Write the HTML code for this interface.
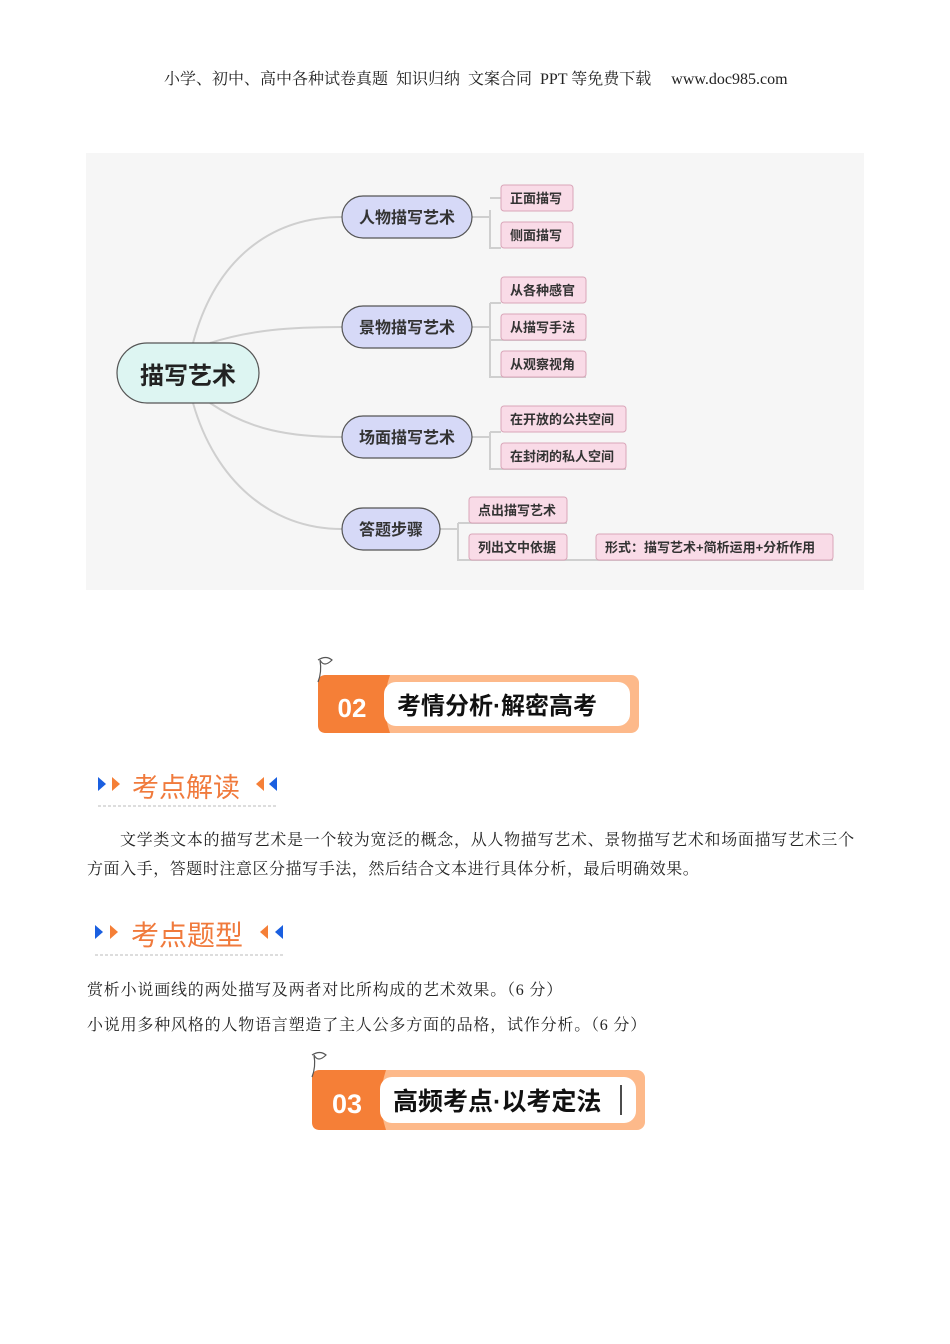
<!DOCTYPE html>
<html><head><meta charset="utf-8"><style>
body{margin:0;background:#fff;}
.pg{position:relative;width:950px;height:1344px;font-family:"Liberation Serif","Noto Serif CJK SC",serif;color:#222;}
.t{position:absolute;white-space:nowrap;}
svg text{font-family:"Liberation Sans","Noto Sans CJK SC",sans-serif;font-weight:bold;}
</style></head><body><div class="pg">
<div class="t" style="left:164px;top:66px;font-size:16px;">小学、初中、高中各种试卷真题&nbsp; 知识归纳&nbsp; 文案合同&nbsp; PPT 等免费下载 &nbsp;&nbsp;&nbsp; www.doc985.com</div>
<svg width="950" height="1344" style="position:absolute;left:0;top:0">
<rect x="86" y="153" width="778" height="437" fill="#f6f6f6"/>
<g fill="none" stroke="#cfcfcf" stroke-width="2">
<path d="M193 343 C215 260 270 217 342 217"/>
<path d="M210 343 C250 330 290 327 342 327"/>
<path d="M210 403 C250 430 290 437 342 437"/>
<path d="M193 403 C215 480 270 529 342 529"/>
<path d="M472 217 H490 M490 210 V248 H501 M490 198 H501"/>
<path d="M472 327 H490 M490 303 V377 H501 M490 303 H501 M490 340 H586 M490 377 H586"/>
<path d="M472 437 H490 M490 432 V469 H626 M490 432 H501"/>
<path d="M440 529 H458 M458 523 V560 H833 M458 523 H567"/>
</g>
<rect x="117" y="343" width="142" height="60" rx="30" fill="#ddf5f2" stroke="#555" stroke-width="1.2"/>
<text x="188" y="384" font-size="24" text-anchor="middle" fill="#222">描写艺术</text>
<g fill="#d6d9f7" stroke="#555" stroke-width="1.2">
<rect x="342" y="196" width="130" height="42" rx="21"/>
<rect x="342" y="306" width="130" height="42" rx="21"/>
<rect x="342" y="416" width="130" height="42" rx="21"/>
<rect x="342" y="508" width="98" height="42" rx="21"/>
</g>
<g font-size="16" fill="#333" text-anchor="middle">
<text x="407" y="223">人物描写艺术</text>
<text x="407" y="333">景物描写艺术</text>
<text x="407" y="443">场面描写艺术</text>
<text x="391" y="535">答题步骤</text>
</g>
<g fill="#f9dbe7" stroke="#d9a5b8" stroke-width="1">
<rect x="501" y="185" width="72" height="26" rx="3"/>
<rect x="501" y="222" width="72" height="26" rx="3"/>
<rect x="501" y="277" width="85" height="26" rx="3"/>
<rect x="501" y="314" width="85" height="26" rx="3"/>
<rect x="501" y="351" width="85" height="26" rx="3"/>
<rect x="501" y="406" width="125" height="26" rx="3"/>
<rect x="501" y="443" width="125" height="26" rx="3"/>
<rect x="469" y="497" width="98" height="26" rx="3"/>
<rect x="469" y="534" width="98" height="26" rx="3"/>
<rect x="596" y="534" width="237" height="26" rx="3"/>
</g>
<g font-size="13" fill="#333">
<text x="510" y="203">正面描写</text>
<text x="510" y="240">侧面描写</text>
<text x="510" y="295">从各种感官</text>
<text x="510" y="332">从描写手法</text>
<text x="510" y="369">从观察视角</text>
<text x="510" y="424">在开放的公共空间</text>
<text x="510" y="461">在封闭的私人空间</text>
<text x="478" y="515">点出描写艺术</text>
<text x="478" y="552">列出文中依据</text>
<text x="605" y="552">形式：描写艺术+简析运用+分析作用</text>
</g>
<rect x="318" y="675" width="321" height="58" rx="8" fill="#fdb98a"/>
<path d="M326 675 H390 Q380 704 390 733 H326 Q318 733 318 725 V683 Q318 675 326 675Z" fill="#f57f37"/>
<rect x="384" y="682" width="246" height="44" rx="12" fill="#fff"/>
<text x="352" y="717" font-size="26" fill="#fff" text-anchor="middle">02</text>
<text x="397" y="714" font-size="24" fill="#111">考情分析·解密高考</text>
<path d="M318 660 q8 -5 14 0 q-8 8 -12 0 q2 12 -2 22" fill="none" stroke="#555" stroke-width="1.2"/>
<rect x="312" y="1070" width="333" height="60" rx="8" fill="#fdb98a"/>
<path d="M320 1070 H386 Q376 1100 386 1130 H320 Q312 1130 312 1122 V1078 Q312 1070 320 1070Z" fill="#f57f37"/>
<rect x="380" y="1077" width="256" height="46" rx="12" fill="#fff"/>
<text x="347" y="1113" font-size="27" fill="#fff" text-anchor="middle">03</text>
<text x="393" y="1110" font-size="25" fill="#111">高频考点·以考定法</text>
<line x1="621" y1="1085" x2="621" y2="1115" stroke="#111" stroke-width="1.5"/>
<path d="M312 1055 q8 -5 14 0 q-8 8 -12 0 q2 12 -2 22" fill="none" stroke="#555" stroke-width="1.2"/>
<g>
<path d="M98 777 l8 7 l-8 7z" fill="#1a5fe0"/><path d="M112 777 l8 7 l-8 7z" fill="#f57f37"/>
<path d="M264 777 l-8 7 l8 7z" fill="#f57f37"/><path d="M277 777 l-8 7 l8 7z" fill="#1a5fe0"/>
<line x1="98" y1="806" x2="277" y2="806" stroke="#bbb" stroke-dasharray="3,2"/>
<path d="M95 925 l8 7 l-8 7z" fill="#1a5fe0"/><path d="M110 925 l8 7 l-8 7z" fill="#f57f37"/>
<path d="M268 925 l-8 7 l8 7z" fill="#f57f37"/><path d="M283 925 l-8 7 l8 7z" fill="#1a5fe0"/>
<line x1="95" y1="955" x2="283" y2="955" stroke="#bbb" stroke-dasharray="3,2"/>
</g>
</svg>
<div class="t" style="left:132px;top:766px;font-size:27px;color:#f07a3c;font-family:'Liberation Sans','Noto Sans CJK SC',sans-serif;">考点解读</div>
<div class="t" style="left:131px;top:914px;font-size:28px;color:#f07a3c;font-family:'Liberation Sans','Noto Sans CJK SC',sans-serif;">考点题型</div>
<div class="t" style="left:120px;top:827px;font-size:16px;letter-spacing:0.7px;">文学类文本的描写艺术是一个较为宽泛的概念，从人物描写艺术、景物描写艺术和场面描写艺术三个</div>
<div class="t" style="left:87px;top:856px;font-size:16px;letter-spacing:0.55px;">方面入手，答题时注意区分描写手法，然后结合文本进行具体分析，最后明确效果。</div>
<div class="t" style="left:87px;top:977px;font-size:16px;letter-spacing:0.8px;">赏析小说画线的两处描写及两者对比所构成的艺术效果。（6 分）</div>
<div class="t" style="left:87px;top:1012px;font-size:16px;letter-spacing:0.8px;">小说用多种风格的人物语言塑造了主人公多方面的品格，试作分析。（6 分）</div>
</div></body></html>
